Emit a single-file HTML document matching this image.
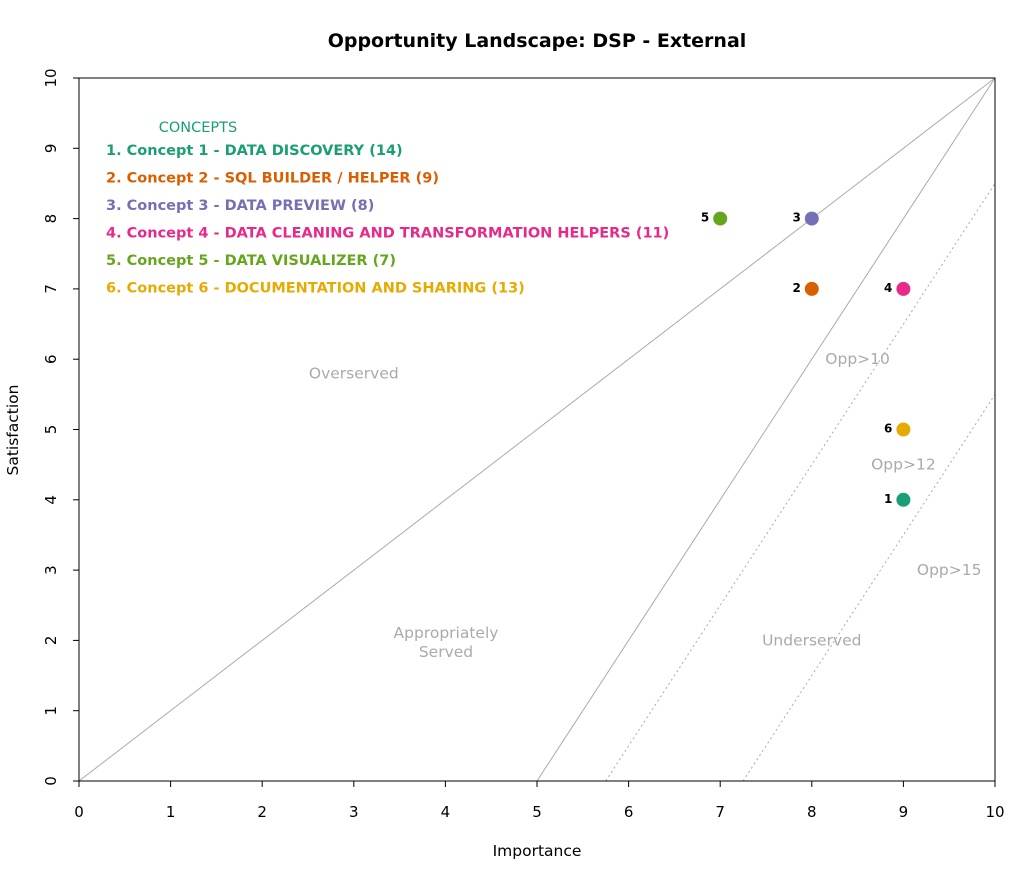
<!DOCTYPE html>
<html><head><meta charset="utf-8"><style>
body{margin:0;background:#fff;}
svg{display:block;font-family:"DejaVu Sans","Liberation Sans",sans-serif;}
</style></head><body>
<svg id="c" width="1036" height="880">
<text x="537" y="47" text-anchor="middle" font-size="19" font-weight="bold">Opportunity Landscape: DSP - External</text>
<g id="grid"></g>
<rect x="79" y="78" width="916" height="703" fill="none" stroke="#000" stroke-width="1"/>
<g id="axes"></g>
<g id="regions"></g>
<g id="legend"></g>
<g id="points"></g>
<text x="537" y="856" text-anchor="middle" font-size="15.5">Importance</text>
<text transform="translate(18,430) rotate(-90)" text-anchor="middle" font-size="15.5">Satisfaction</text>
</svg>
<script>
const ticks=[0,1,2,3,4,5,6,7,8,9,10];
const conceptIds=[1,2,3,4,5,6];
const conceptNames=["Concept 1 - DATA DISCOVERY (14)","Concept 2 - SQL BUILDER / HELPER (9)","Concept 3 - DATA PREVIEW (8)","Concept 4 - DATA CLEANING AND TRANSFORMATION HELPERS (11)","Concept 5 - DATA VISUALIZER (7)","Concept 6 - DOCUMENTATION AND SHARING (13)"];
const importance=[9,8,8,9,7,9];
const satisfaction=[4,7,8,7,8,5];
const colors=["#1b9e77","#d95f02","#7570b3","#e7298a","#66a61e","#e6ab02"];
const NS="http://www.w3.org/2000/svg";
const X=v=>79+v*91.6, Y=v=>781-v*70.3;
function mk(t,a,p){const e=document.createElementNS(NS,t);for(const k in a)e.setAttribute(k,a[k]);p.appendChild(e);return e;}
const axes=document.getElementById('axes');
ticks.forEach(t=>{
 let l=mk('line',{x1:X(t),x2:X(t),y1:781,y2:787,stroke:'#000'},axes);
 
 
 let tx=mk('text',{x:X(t),y:817,'text-anchor':'middle','font-size':15},axes);tx.textContent=t;
 
 
 let l2=mk('line',{x1:73,x2:79,y1:Y(t),y2:Y(t),stroke:'#000'},axes);
 
 
 let ty=mk('text',{transform:`translate(56,${Y(t)}) rotate(-90)`,'text-anchor':'middle','font-size':15},axes);ty.textContent=t;
 
 
});
const g=document.getElementById('grid');
const lines=[[0,0,10,10,''],[5,0,10,10,''],[5.75,0,10,8.5,'2,3'],[7.25,0,10,5.5,'2,3']];
lines.forEach(d=>{let l=mk('line',{x1:X(d[0]),y1:Y(d[1]),x2:X(d[2]),y2:Y(d[3]),stroke:'#aaa','stroke-width':1,'stroke-dasharray':d[4]},g);
 
 });
const regionLabels=[["Overserved",3,5.8],["Opp>10",8.5,6.0],["Opp>12",9,4.5],["Opp>15",9.5,3.0],["Underserved",8,2.0]];
const rg=document.getElementById('regions');
regionLabels.forEach(r=>{let t=mk('text',{x:X(r[1]),y:Y(r[2])+5,'text-anchor':'middle','font-size':15.5,fill:'#aaa'},rg);t.textContent=r[0];
 
 });
[["Appropriately",638],["Served",657]].forEach(r=>{let t=mk('text',{x:446,y:r[1],'text-anchor':'middle','font-size':15.5,fill:'#aaa'},rg);t.textContent=r[0];
 
 });
const lg=document.getElementById('legend');
let h=mk('text',{x:198,y:132,'text-anchor':'middle','font-size':14.5,fill:'#1b9e77'},lg);h.textContent='CONCEPTS';


conceptNames.forEach((n,i)=>{let t=mk('text',{x:106,y:155+i*27.5,'font-size':14.5,'font-weight':'bold',fill:colors[i]},lg);t.textContent=conceptIds[i]+'. '+n;
 
 });
const pg=document.getElementById('points');
importance.forEach((v,i)=>{
 let c=mk('circle',{cx:X(v),cy:Y(satisfaction[i]),r:7,fill:colors[i]},pg);
 
 
 let t=mk('text',{x:X(v)-11,y:Y(satisfaction[i])+3,'text-anchor':'end','font-size':12,'font-weight':'bold'},pg);t.textContent=conceptIds[i];
 
 
});
</script>
</body></html>
